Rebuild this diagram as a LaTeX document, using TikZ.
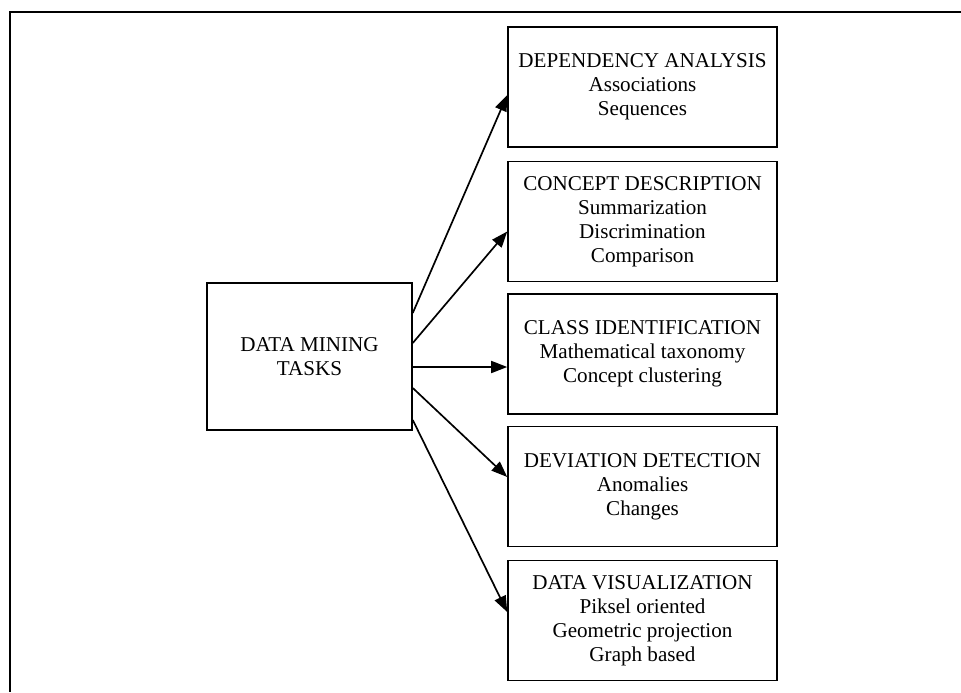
\documentclass[tikz,border=0pt]{standalone}
\usepackage{fontspec}
\setmainfont{Liberation Serif}
\usetikzlibrary{arrows.meta,calc}

\begin{document}
\begin{tikzpicture}[x=0.025cm, y=-0.025cm, line width=1.2pt,
  task/.style={draw, rectangle, align=center, minimum width=6.72cm, minimum height=3cm, font=\fontsize{15}{17}\selectfont},
  link/.style={-{Triangle[length=4mm,width=3mm]}}]
\useasboundingbox (0,0) rectangle (961,692);
% frame
\draw[line width=1.4pt] (961,12) -- (10,12) -- (10,692);
\node[task, minimum width=5.12cm, minimum height=3.68cm](main) at (309.5,356.5){DATA MINING\\TASKS};
\node[task](dep) at (642.5,87){DEPENDENCY ANALYSIS\\Associations\\Sequences};
\node[task](con) at (642.5,221.5){CONCEPT DESCRIPTION\\Summarization\\Discrimination\\Comparison};
\node[task](cls) at (642.5,354){CLASS IDENTIFICATION\\Mathematical taxonomy\\Concept clustering};
\node[task](dev) at (642.5,486.5){DEVIATION DETECTION\\Anomalies\\Changes};
\node[task](vis) at (642.5,620.5){DATA VISUALIZATION\\Piksel oriented\\Geometric projection\\Graph based};
\foreach \fy/\to/\ty in {-43.5/dep/8, -13.5/con/10, 10.5/cls/13, 31.5/dev/-9.5, 63.5/vis/-8.5}
 \draw[link] ($(main.east)+(0,\fy)$) -- ($(\to.west)+(0,\ty)$);
\end{tikzpicture}
\end{document}
